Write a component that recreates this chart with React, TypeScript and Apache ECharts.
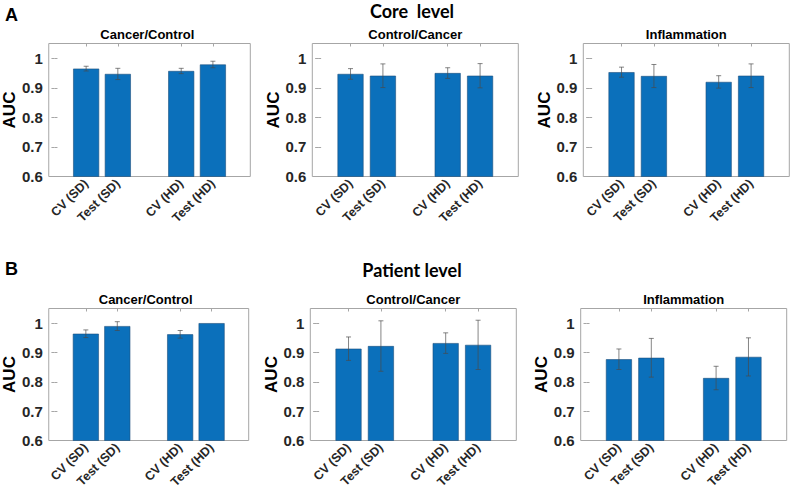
import React, { useEffect, useRef } from "react";
import * as echarts from "echarts";

const CATEGORIES = ["CV (SD)", "Test (SD)", "CV (HD)", "Test (HD)"];
const X_POSITIONS = [1, 2, 4, 5];
const PANEL_TITLES = ["Cancer/Control", "Control/Cancer", "Inflammation"];
const ROW_TITLES = ["Core  level", "Patient level"];
const ROW_LETTERS = ["A", "B"];
const Y_TICKS = [0.6, 0.7, 0.8, 0.9, 1];

// Core level
const coreCancerControlMean = [0.965, 0.947, 0.957, 0.979];
const coreCancerControlErr = [0.008, 0.019, 0.009, 0.011];
const coreControlCancerMean = [0.947, 0.941, 0.95, 0.941];
const coreControlCancerErr = [0.018, 0.04, 0.018, 0.041];
const coreInflammationMean = [0.953, 0.94, 0.92, 0.941];
const coreInflammationErr = [0.017, 0.039, 0.021, 0.04];
// Patient level
const patientCancerControlMean = [0.964, 0.99, 0.962, 1.0];
const patientCancerControlErr = [0.013, 0.015, 0.013, 0];
const patientControlCancerMean = [0.913, 0.922, 0.932, 0.926];
const patientControlCancerErr = [0.04, 0.086, 0.035, 0.084];
const patientInflammationMean = [0.877, 0.882, 0.813, 0.885];
const patientInflammationErr = [0.035, 0.066, 0.04, 0.065];

const PANELS = [
  [coreCancerControlMean, coreCancerControlErr],
  [coreControlCancerMean, coreControlCancerErr],
  [coreInflammationMean, coreInflammationErr],
  [patientCancerControlMean, patientCancerControlErr],
  [patientControlCancerMean, patientControlCancerErr],
  [patientInflammationMean, patientInflammationErr],
];

// layout
const ROW_TOP = [43.5, 308.5];
const ROW_HEIGHT = [133, 132];
const ROW_LEFTS = [
  [44.3, 312.3, 583.3],
  [42.7, 310.3, 580.7],
];
const GRID_W = 206;
const X_MIN = -0.18;
const X_MAX = 6.18;

const FONT = "Liberation Sans";
const TEXT = "#262626";
const AXIS = "#a6a6a6";
const BAR = "#0b70bb";

export default function App() {
  const ref = useRef<HTMLDivElement>(null);
  useEffect(() => {
    if (!ref.current) return;
    const chart = echarts.init(ref.current, undefined, { renderer: "svg" });
    const grids: any[] = [];
    const xAxes: any[] = [];
    const yAxes: any[] = [];
    const series: any[] = [];
    const graphics: any[] = [];

    for (let r = 0; r < 2; r++) {
      graphics.push({
        type: "text",
        x: 5,
        y: r === 0 ? 6 : 260,
        style: {
          text: ROW_LETTERS[r],
          fill: "#000",
          fontSize: 18,
          fontWeight: "bold",
          fontFamily: FONT,
        },
      });
      graphics.push({
        type: "text",
        x: 412,
        y: r === 0 ? 11 : 270,
        style: {
          text: ROW_TITLES[r],
          fill: "#000",
          fontSize: 18,
          fontWeight: "bold",
          fontFamily: "Lato",
          align: "center",
          verticalAlign: "middle",
        },
      });
      for (let c = 0; c < 3; c++) {
        const i = r * 3 + c;
        const left = ROW_LEFTS[r][c];
        grids.push({
          left,
          top: ROW_TOP[r],
          width: GRID_W,
          height: ROW_HEIGHT[r],
          show: true,
          borderColor: AXIS,
          borderWidth: 1,
          backgroundColor: "#fff",
        });
        graphics.push({
          type: "text",
          x: left + GRID_W / 2,
          y: ROW_TOP[r] - 9,
          style: {
            text: PANEL_TITLES[c],
            fill: "#000",
            fontSize: 13,
            fontWeight: "bold",
            fontFamily: FONT,
            align: "center",
            verticalAlign: "middle",
          },
        });
        const xBase = {
          type: "value",
          gridIndex: i,
          min: X_MIN,
          max: X_MAX,
          splitLine: { show: false },
          axisLine: { show: false },
        };
        xAxes.push({
          ...xBase,
          position: "bottom",
          axisTick: {
            show: true,
            inside: true,
            length: 3,
            customValues: X_POSITIONS,
            lineStyle: { color: AXIS },
          },
          axisLabel: {
            show: true,
            customValues: X_POSITIONS,
            rotate: 45,
            margin: 5,
            color: TEXT,
            fontSize: 12.5,
            fontWeight: "bold",
            fontFamily: FONT,
            formatter: (v: number) => {
              const k = X_POSITIONS.indexOf(Math.round(v));
              return k >= 0 ? CATEGORIES[k] : "";
            },
          },
        });
        xAxes.push({
          ...xBase,
          position: "top",
          axisTick: {
            show: true,
            inside: true,
            length: 3,
            customValues: X_POSITIONS,
            lineStyle: { color: AXIS },
          },
          axisLabel: { show: false },
        });
        const yBase = {
          type: "value",
          gridIndex: i,
          min: 0.6,
          max: 1.05,
          interval: 0.1,
          splitLine: { show: false },
          axisLine: { show: false },
        };
        yAxes.push({
          ...yBase,
          position: "left",
          name: "AUC",
          nameLocation: "middle",
          nameRotate: 90,
          nameGap: 30,
          nameTextStyle: {
            color: "#000",
            fontSize: 17,
            fontWeight: "bold",
            fontFamily: FONT,
          },
          axisTick: {
            show: true,
            inside: true,
            length: 3,
            customValues: Y_TICKS,
            lineStyle: { color: AXIS },
          },
          axisLabel: {
            show: true,
            customValues: Y_TICKS,
            margin: 6,
            color: TEXT,
            fontSize: 15,
            fontWeight: "bold",
            fontFamily: FONT,
            formatter: (v: number) => String(Number(v.toFixed(2))),
          },
        });
        yAxes.push({
          ...yBase,
          position: "right",
          axisTick: {
            show: true,
            inside: true,
            length: 3,
            customValues: Y_TICKS,
            lineStyle: { color: AXIS },
          },
          axisLabel: { show: false },
        });
        const [means, errs] = PANELS[i];
        series.push({
          type: "bar",
          xAxisIndex: 2 * i,
          yAxisIndex: 2 * i,
          barWidth: 26,
          data: X_POSITIONS.map((x, k) => [x, means[k]]),
          itemStyle: { color: BAR, borderColor: "#1d4f7c", borderWidth: 0.6 },
          silent: true,
        });
        series.push({
          type: "custom",
          xAxisIndex: 2 * i,
          yAxisIndex: 2 * i,
          encode: { x: 0, y: 1 },
          data: X_POSITIONS.map((x, k) => [x, means[k], errs[k]]),
          z: 10,
          silent: true,
          renderItem: (params: any, api: any) => {
            const x = api.value(0);
            const m = api.value(1);
            const e = api.value(2);
            if (!e) return { type: "group", children: [] };
            const top = api.coord([x, m + e]);
            const bot = api.coord([x, m - e]);
            const cx = top[0];
            const w = 2.5;
            const style = { stroke: "#4a4a4a", lineWidth: 0.8, opacity: 0.85 };
            return {
              type: "group",
              children: [
                { type: "line", shape: { x1: cx, y1: top[1], x2: cx, y2: bot[1] }, style },
                { type: "line", shape: { x1: cx - w, y1: top[1], x2: cx + w, y2: top[1] }, style },
                { type: "line", shape: { x1: cx - w, y1: bot[1], x2: cx + w, y2: bot[1] }, style },
              ],
            };
          },
        });
      }
    }

    chart.setOption({
      animation: false,
      backgroundColor: "#fff",
      grid: grids,
      xAxis: xAxes,
      yAxis: yAxes,
      series,
      graphic: graphics,
    });
    return () => chart.dispose();
  }, []);
  return (
    <div
      ref={ref}
      style={{ position: "fixed", left: 0, top: 0, width: 794, height: 491 }}
    />
  );
}
